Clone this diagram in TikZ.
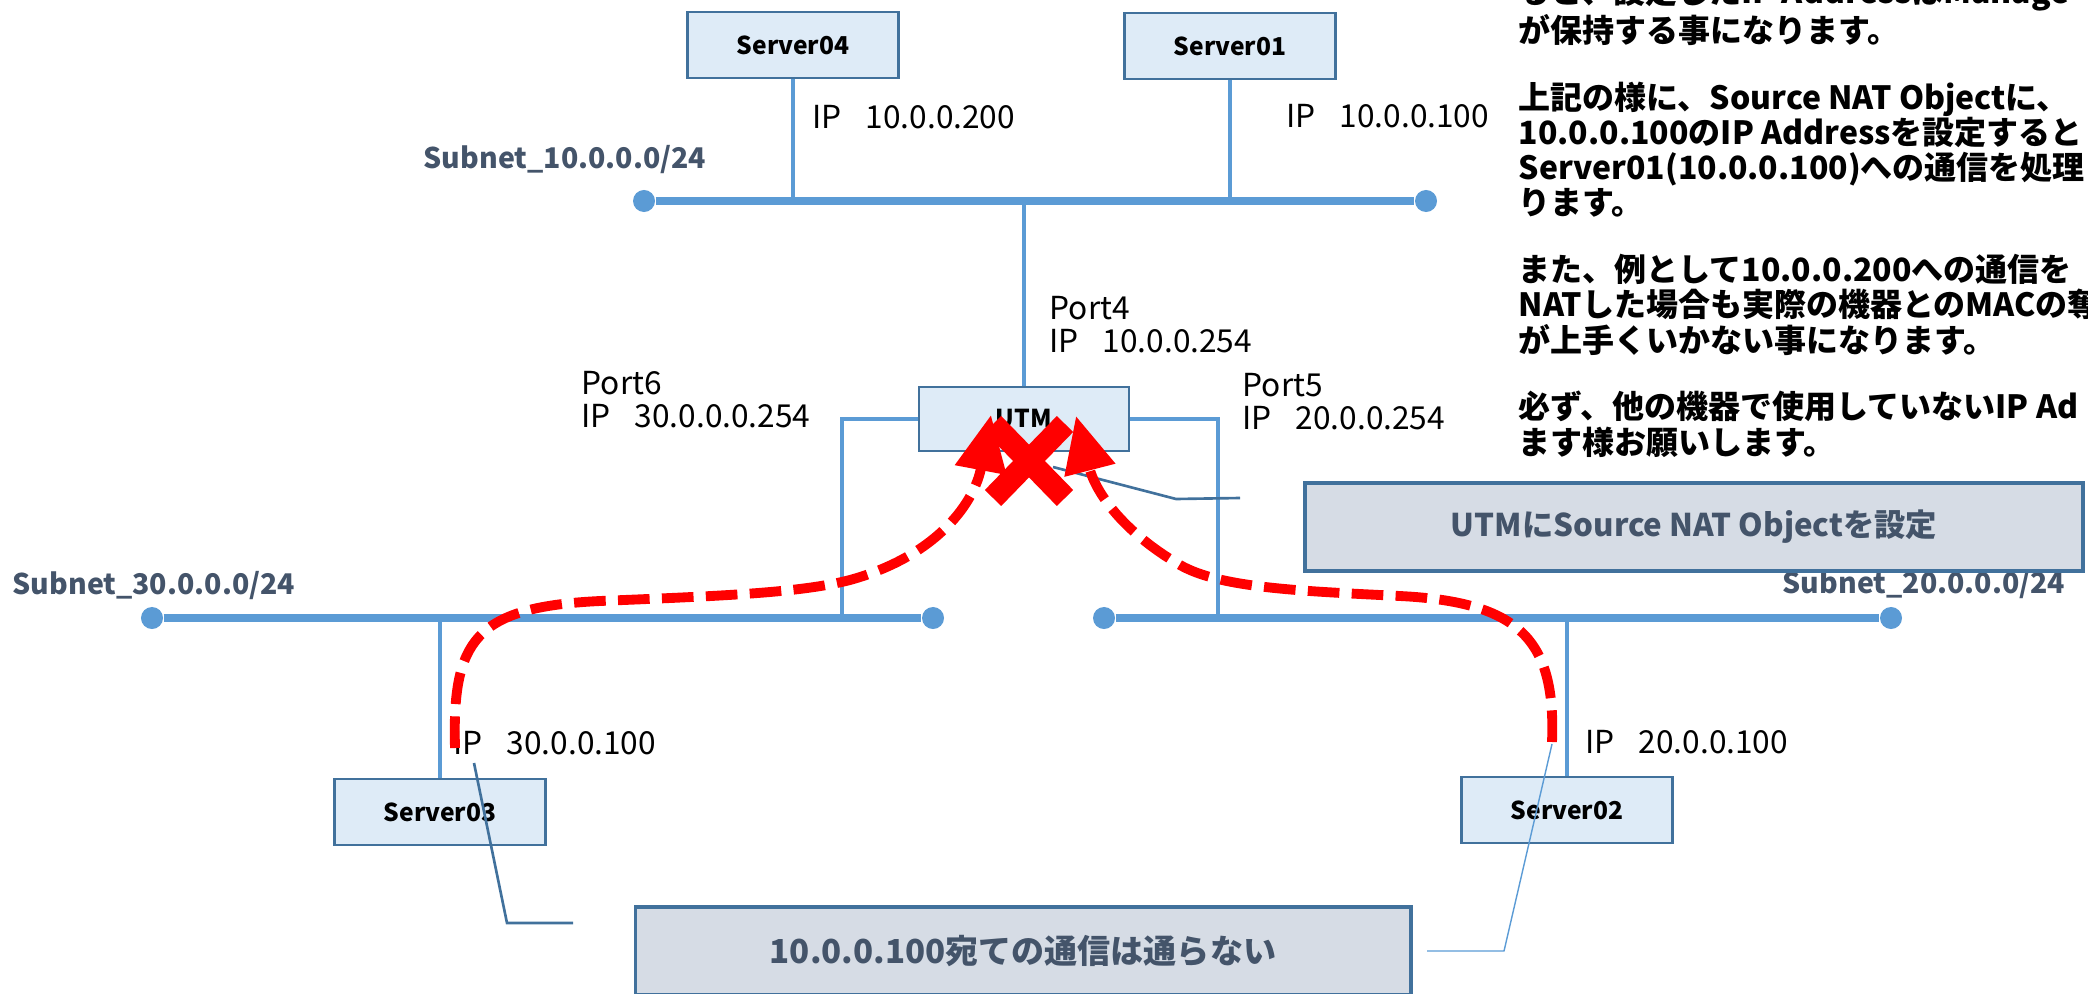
\documentclass[tikz,border=0pt]{standalone}
\usepackage{fontspec}
\setmainfont{Noto Sans CJK JP}
\usepackage{tikz}
\usetikzlibrary{arrows.meta,positioning}
\usepackage{xcolor}
\definecolor{reseau}{HTML}{5B9BD5}
\definecolor{bordure}{HTML}{41719C}
\definecolor{boite}{HTML}{DEEBF7}
\definecolor{bulle}{HTML}{D6DCE5}
\definecolor{ardoise}{HTML}{44546A}
\definecolor{rouge}{HTML}{FF0000}
\newcommand{\ipaddr}[1]{IP\hspace{0.75em}#1}
\tikzset{
    subnet/.style={
        line width=2.3pt,
        color=reseau
    },
    drop/.style={
        line width=1pt,
        color=reseau
    },
    endpoint/.style={
        circle,
        fill=reseau,
        inner sep=0pt,
        minimum size=0.22cm
    },
    server/.style={
        draw=bordure,
        fill=boite,
        line width=0.8pt,
        minimum width=2.11cm,
        minimum height=0.66cm,
        inner sep=0pt,
        font=\bfseries\fontsize{7}{8}\selectfont
    },
    subnetlabel/.style={
        anchor=west,
        inner sep=0pt,
        color=ardoise,
        font=\bfseries\fontsize{8.1}{10}\selectfont
    },
    iplabel/.style={
        anchor=west,
        align=left,
        inner sep=0pt,
        font=\fontsize{9}{9.4}\selectfont
    },
    callout/.style={
        draw=bordure,
        fill=bulle,
        line width=1pt,
        minimum height=0.88cm,
        text=ardoise,
        font=\bfseries\fontsize{8.9}{10}\selectfont
    },
    leader/.style={
        line width=0.75pt,
        color=bordure
    },
    thinleader/.style={
        line width=0.4pt,
        color=reseau
    },
    flow/.style={
        -{Triangle[length=0.56cm,width=0.5cm]},
        line width=2.8pt,
        color=rouge,
        dash pattern=on 9pt off 3.5pt
    },
    stopmark/.style={
        line width=6.5pt,
        color=rouge
    },
    notetext/.style={
        anchor=base west,
        align=left,
        inner sep=0pt,
        font=\bfseries\fontsize{9.1}{10}\selectfont
    }
}

\begin{document}
\begin{tikzpicture}[x=0.01cm,y=-0.01cm]

    % Cadre
    \useasboundingbox (0,0) rectangle (2088,994);

    % Extrémités des sous-réseaux
    \node[endpoint] (n10a) at (644,201) {};
    \node[endpoint] (n10b) at (1426,201) {};
    \node[endpoint] (n30a) at (152,618) {};
    \node[endpoint] (n30b) at (933,618) {};
    \node[endpoint] (n20a) at (1104,618) {};
    \node[endpoint] (n20b) at (1891,618) {};

    % Sous-réseaux
    \draw[subnet] (n10a) -- (n10b);
    \draw[subnet] (n30a) -- (n30b);
    \draw[subnet] (n20a) -- (n20b);

    % Serveurs
    \node[server] (srv04) at (793,45) {Server04};
    \node[server] (srv01) at (1230,46) {Server01};
    \node[server] (srv03) at (440,812) {Server03};
    \node[server] (srv02) at (1567,810) {Server02};

    % UTM
    \node[
        server,
        minimum width=2.10cm,
        minimum height=0.64cm
    ] (utm) at (1024,419) {UTM};

    % Liaisons
    \draw[drop] (srv04.south) -- (srv04.south |- n10a);
    \draw[drop] (srv01.south) -- (srv01.south |- n10a);
    \draw[drop] (srv03.north) -- (srv03.north |- n30a);
    \draw[drop] (srv02.north) -- (srv02.north |- n20a);
    \draw[drop] (utm.north) -- (utm.north |- n10a);

    % Ports 6 et 5
    \coordinate (p6) at (842,618);
    \coordinate (p5) at (1218,618);
    \draw[drop] (utm.west) -| (p6);
    \draw[drop] (utm.east) -| (p5);

    % Noms des sous-réseaux
    \node[subnetlabel] (lbl10) at (423,160) {Subnet\_10.0.0.0/24};
    \node[subnetlabel] (lbl30) at (12,586) {Subnet\_30.0.0.0/24};
    \node[subnetlabel] (lbl20) at (1782,585) {Subnet\_20.0.0.0/24};

    % Adresses
    \node[iplabel] (ip04) at (812,117) {\ipaddr{10.0.0.200}};
    \node[iplabel] (ip01) at (1286,116) {\ipaddr{10.0.0.100}};
    \node[iplabel] (port4) at (1049,325) {Port4\\\ipaddr{10.0.0.254}};
    \node[iplabel] (port6) at (581,400) {Port6\\\ipaddr{30.0.0.0.254}};
    \node[iplabel] (port5) at (1242,402) {Port5\\\ipaddr{20.0.0.254}};
    \node[iplabel] (ip03) at (453,743) {\ipaddr{30.0.0.100}};
    \node[iplabel] (ip02) at (1585,742) {\ipaddr{20.0.0.100}};

    % Bulles
    \node[
        callout,
        minimum width=7.78cm
    ] (nat) at (1694,527) {UTMにSource NAT Objectを設定};

    \node[
        callout,
        minimum width=7.75cm,
        font=\bfseries\fontsize{9.4}{10}\selectfont
    ] (nopass) at (1023,951) {10.0.0.100宛ての通信は通らない};

    % Traits des bulles
    \coordinate (natA) at (1240,498);
    \coordinate (natB) at (1176,499);
    \coordinate (natC) at (1053,467);
    \draw[leader] (natA) -- (natB) -- (natC);

    \coordinate (npA) at (573,923);
    \coordinate (npB) at (507,923);
    \coordinate (npC) at (474,763);
    \draw[leader] (npA) -- (npB) -- (npC);

    \coordinate (npD) at (1427,951);
    \coordinate (npE) at (1504,951);
    \coordinate (npF) at (1552,744);
    \draw[thinleader] (npD) -- (npE) -- (npF);

    % Flux vers l'UTM
    \coordinate (fromS3) at (455,748);
    \coordinate (tipL) at (991,415);
    \draw[flow]
        (fromS3)
        .. controls (452,640) and (475,607) .. (600,601)
        .. controls (720,596) and (800,593) .. (850,580)
        .. controls (940,555) and (975,500) .. (tipL);

    \coordinate (fromS2) at (1552,742);
    \coordinate (tipR) at (1076,416);
    \draw[flow]
        (fromS2)
        .. controls (1556,640) and (1520,602) .. (1400,596)
        .. controls (1300,591) and (1220,588) .. (1180,565)
        .. controls (1120,530) and (1095,490) .. (tipR);

    % Croix
    \coordinate (stop) at (1029,461);
    \draw[stopmark] ([shift={(-36,-37)}]stop) -- ([shift={(36,37)}]stop);
    \draw[stopmark] ([shift={(36,-37)}]stop) -- ([shift={(-36,37)}]stop);

    % Texte explicatif
    \node[notetext] (notes) at (1518,454) {%
        ると、設定したIP AddressはManage\\
        が保持する事になります。\\[9pt]
        上記の様に、Source NAT Objectに、\\
        10.0.0.100のIP Addressを設定すると\\
        Server01(10.0.0.100)への通信を処理\\
        ります。\\[9pt]
        また、例として10.0.0.200への通信を\\
        NATした場合も実際の機器とのMACの奪\\
        が上手くいかない事になります。\\[9pt]
        必ず、他の機器で使用していないIP Ad\\
        ます様お願いします。};

\end{tikzpicture}
\end{document}
